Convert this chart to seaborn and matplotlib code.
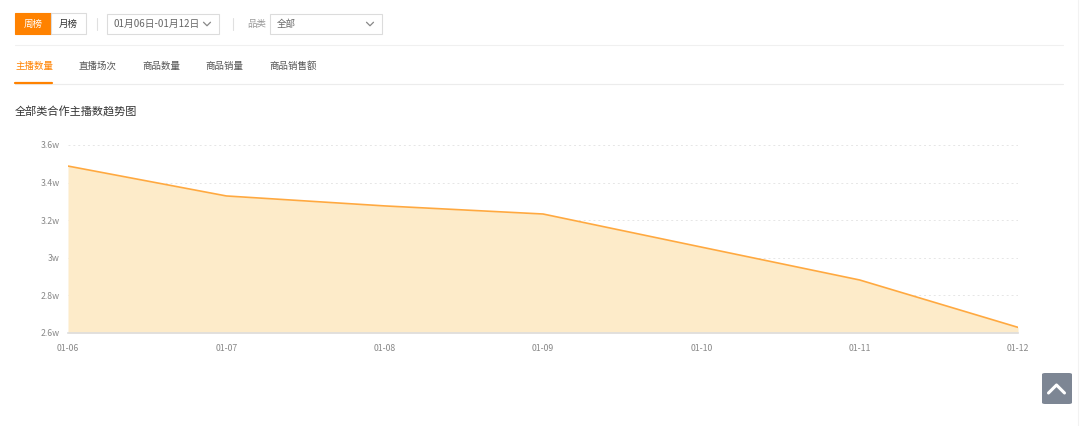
import matplotlib
matplotlib.use("Agg")
import matplotlib.pyplot as plt
from matplotlib.patches import Rectangle, FancyBboxPatch
from matplotlib.lines import Line2D
import seaborn as sns
import pandas as pd

# 数据
dates = ["01-06", "01-07", "01-08", "01-09", "01-10", "01-11", "01-12"]
anchors = [34880, 33290, 32760, 32330, 30570, 28820, 26300]
y_ticks = [26000, 28000, 30000, 32000, 34000, 36000]
y_labels = ["2.6w", "2.8w", "3w", "3.2w", "3.4w", "3.6w"]

tabs = ["主播数量", "直播场次", "商品数量", "商品销量", "商品销售额"]
tab_x = [15, 79, 142, 205, 269]

W, H = 1080, 426
sns.set_style("white")
plt.rcParams['font.family'] = ['Noto Sans CJK SC', 'DejaVu Sans']

fig = plt.figure(figsize=(W / 100, H / 100), dpi=100)
fig.patch.set_facecolor("white")


def fx(x):
    return x / W


def fy(y):
    return 1 - y / H


def box(x0, y0, x1, y1, fc, ec, lw=0.8):
    fig.patches.append(Rectangle((fx(x0), fy(y1)), fx(x1) - fx(x0), fy(y0) - fy(y1),
                                 transform=fig.transFigure, facecolor=fc,
                                 edgecolor=ec, linewidth=lw))


def hline(x0, x1, y, color, lw=0.8):
    fig.add_artist(Line2D([fx(x0), fx(x1)], [fy(y), fy(y)], color=color, lw=lw,
                          transform=fig.transFigure))


def chevron(cx, cy, w, h, color, lw=0.9, up=False):
    d = -h if up else h
    fig.add_artist(Line2D([fx(cx - w), fx(cx), fx(cx + w)],
                          [fy(cy - d / 2), fy(cy + d / 2), fy(cy - d / 2)],
                          color=color, lw=lw, transform=fig.transFigure))


# 顶部筛选栏
box(15, 13, 51, 34, "#ff8200", "#ff8200")
box(51, 13, 86, 34, "white", "#dcdcdc")
fig.text(fx(33), fy(24), "周榜", color="white", fontsize=6.8, ha="center", va="center")
fig.text(fx(68.5), fy(24), "月榜", color="#333333", fontsize=6.8, ha="center", va="center")
fig.add_artist(Line2D([fx(97), fx(97)], [fy(18), fy(30)], color="#e0e0e0", lw=0.8,
                      transform=fig.transFigure))
box(107, 14, 219, 34, "white", "#dcdcdc")
fig.text(fx(114), fy(24), "01月06日-01月12日", color="#666666", fontsize=7,
         ha="left", va="center")
chevron(207, 24, 3.5, 3.5, "#888888")
fig.add_artist(Line2D([fx(233), fx(233)], [fy(18), fy(30)], color="#e0e0e0", lw=0.8,
                      transform=fig.transFigure))
fig.text(fx(247), fy(24), "品类", color="#999999", fontsize=6.8, ha="left", va="center")
box(270, 14, 382, 34, "white", "#dcdcdc")
fig.text(fx(277), fy(24), "全部", color="#666666", fontsize=6.8, ha="left", va="center")
chevron(370, 24, 3.5, 3.5, "#888888")
hline(15, 1063, 45, "#f0f0f0")

# 标签页
for name, x in zip(tabs, tab_x):
    c = "#ff8200" if name == "主播数量" else "#555555"
    fig.text(fx(x), fy(66), name, color=c, fontsize=6.8, ha="left", va="center")
hline(15, 1063, 83.5, "#ececec")
hline(15, 52, 83, "#ff8200", lw=1.6)

fig.text(fx(15), fy(111), "全部类合作主播数趋势图", color="#333333", fontsize=8,
         ha="left", va="center")

# 趋势图
df = pd.DataFrame({"date": range(len(dates)), "count": anchors})
ax = fig.add_axes([fx(68), fy(333), fx(1018) - fx(68), fy(145) - fy(333)])
ax.fill_between(df["date"], df["count"], 26000, color="#fdebc9", linewidth=0)
sns.lineplot(data=df, x="date", y="count", ax=ax, color="#ffa940", linewidth=1.2)

ax.set_xlim(0, len(dates) - 1)
ax.set_ylim(26000, 36000)
ax.set_xticks(range(len(dates)))
ax.set_xticklabels(dates)
ax.set_yticks(y_ticks)
ax.set_yticklabels(y_labels)
ax.tick_params(axis="both", length=0, labelsize=6.3, labelcolor="#888888")
ax.tick_params(axis="y", pad=6)
ax.tick_params(axis="x", pad=8)
ax.set_xlabel("")
ax.set_ylabel("")
for v in y_ticks[1:]:
    ax.axhline(v, color="#e6e6e6", lw=0.7, ls=(0, (2, 3)), zorder=0)
for s in ["top", "right", "left"]:
    ax.spines[s].set_visible(False)
ax.spines["bottom"].set_color("#dddddd")
ax.spines["bottom"].set_linewidth(1.2)
ax.patch.set_alpha(0)

# 返回顶部按钮
fig.patches.append(FancyBboxPatch((fx(1042), fy(404)), fx(30), fy(373) - fy(404),
                                  boxstyle="round,pad=0,rounding_size=0.003",
                                  transform=fig.transFigure, facecolor="#7d8694",
                                  edgecolor="none"))
chevron(1056.5, 389, 8, 8, "white", lw=2.2, up=True)
fig.add_artist(Line2D([fx(1078), fx(1078)], [0, 1], color="#f2f2f2", lw=0.8,
                      transform=fig.transFigure))

fig.savefig("out.png", dpi=100, facecolor="white")
